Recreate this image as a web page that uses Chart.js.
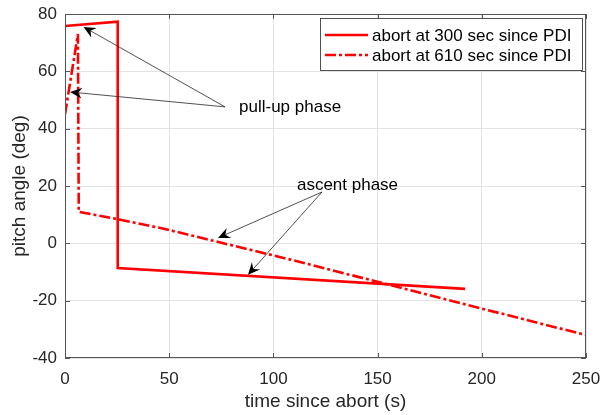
<!DOCTYPE html>
<html>
<head>
<meta charset="utf-8">
<script src="https://cdn.jsdelivr.net/npm/chart.js@4/dist/chart.umd.min.js"></script>
<style>
  html, body { margin: 0; padding: 0; background: #fff; }
  #wrap { width: 603px; height: 415px; }
</style>
</head>
<body>
<div id="wrap"><canvas id="graph" width="603" height="415"></canvas></div>
<script>
// abort at 300 sec since PDI (solid)
const abort300Time = [0, 25.3, 25.3, 192];
const abort300Pitch = [75.8, 77.3, -8.6, -15.9];

// abort at 610 sec since PDI (dash-dot)
const abort610Time = [0, 6.2, 6.6, 25.4, 48, 112.8, 199.1, 250];
const abort610Pitch = [45, 73, 11.0, 8.4, 5.0, -6.5, -22.6, -32.0];

const seriesLabels = ["abort at 300 sec since PDI", "abort at 610 sec since PDI"];

const xTicks = [0, 50, 100, 150, 200, 250];
const yTicks = [-40, -20, 0, 20, 40, 60, 80];

// annotation text and arrows (data coords)
const notes = [
  { text: "pull-up phase", x: 83.5, y: 47.6 },
  { text: "ascent phase", x: 111.3, y: 20.3 },
];
const arrows = [
  { from: [76.8, 47.6], to: [8.9, 75.5] },
  { from: [76.8, 47.6], to: [2.4, 52.8] },
  { from: [123.3, 17.9], to: [73.4, 1.9] },
  { from: [123.3, 17.9], to: [87.8, -11.0] },
];

const FONT = "'Liberation Sans', Arial, sans-serif";
const AXIS = "#555";

function toPoints(xs, ys) {
  return xs.map((x, i) => ({ x: x, y: ys[i] }));
}

function drawArrow(ctx, x0, y0, x1, y1) {
  const ang = Math.atan2(y1 - y0, x1 - x0);
  const len = 12, half = 5.5, back = 8;
  ctx.save();
  ctx.strokeStyle = "#262626";
  ctx.fillStyle = "#000";
  ctx.lineWidth = 0.8;
  ctx.beginPath();
  ctx.moveTo(x0, y0);
  ctx.lineTo(x1 - Math.cos(ang) * back, y1 - Math.sin(ang) * back);
  ctx.stroke();
  ctx.translate(x1, y1);
  ctx.rotate(ang);
  ctx.beginPath();
  ctx.moveTo(0, 0);
  ctx.lineTo(-len, -half);
  ctx.lineTo(-back, 0);
  ctx.lineTo(-len, half);
  ctx.closePath();
  ctx.fill();
  ctx.restore();
}

const extras = {
  id: "extras",
  afterDraw(chart) {
    const ctx = chart.ctx;
    const a = chart.chartArea;
    const xs = chart.scales.x, ys = chart.scales.y;

    // box + inward ticks
    ctx.save();
    ctx.strokeStyle = AXIS;
    ctx.lineWidth = 1;
    ctx.strokeRect(a.left + 0.5, a.top + 0.5, a.right - a.left - 1, a.bottom - a.top - 1);
    ctx.beginPath();
    xTicks.forEach(v => {
      const px = Math.round(xs.getPixelForValue(v)) + 0.5;
      ctx.moveTo(px, a.bottom); ctx.lineTo(px, a.bottom - 5);
      ctx.moveTo(px, a.top); ctx.lineTo(px, a.top + 5);
    });
    yTicks.forEach(v => {
      const py = Math.round(ys.getPixelForValue(v)) + 0.5;
      ctx.moveTo(a.left, py); ctx.lineTo(a.left + 5, py);
      ctx.moveTo(a.right, py); ctx.lineTo(a.right - 5, py);
    });
    ctx.stroke();
    ctx.restore();

    // arrows
    arrows.forEach(ar => {
      drawArrow(ctx,
        xs.getPixelForValue(ar.from[0]), ys.getPixelForValue(ar.from[1]),
        xs.getPixelForValue(ar.to[0]), ys.getPixelForValue(ar.to[1]));
    });

    // notes
    ctx.save();
    ctx.fillStyle = "#000";
    ctx.font = "17px " + FONT;
    ctx.textBaseline = "middle";
    ctx.textAlign = "left";
    notes.forEach(n => {
      ctx.fillText(n.text, xs.getPixelForValue(n.x), ys.getPixelForValue(n.y));
    });
    ctx.restore();

    // legend box
    ctx.save();
    const bx = 320, by = 18, bw = 262, bh = 52;
    ctx.fillStyle = "#fff";
    ctx.fillRect(bx, by, bw, bh);
    ctx.strokeStyle = "#262626";
    ctx.lineWidth = 0.8;
    ctx.strokeRect(bx + 0.5, by + 0.5, bw, bh);
    chart.data.datasets.forEach((ds, i) => {
      const yy = 35 + i * 20;
      ctx.strokeStyle = ds.borderColor;
      ctx.lineWidth = ds.borderWidth;
      ctx.setLineDash(ds.borderDash || []);
      ctx.beginPath();
      ctx.moveTo(325, yy);
      ctx.lineTo(368, yy);
      ctx.stroke();
      ctx.setLineDash([]);
      ctx.fillStyle = "#000";
      ctx.font = "17px " + FONT;
      ctx.textBaseline = "middle";
      ctx.fillText(ds.label, 372, yy + 1);
    });
    ctx.restore();
  },
};

const graph = document.getElementById("graph").getContext("2d");

let myChart = new Chart(graph, {
  type: "line",
  data: {
    datasets: [
      {
        label: seriesLabels[0],
        data: toPoints(abort300Time, abort300Pitch),
        borderColor: "#ff0000",
        borderWidth: 2.6,
        pointRadius: 0,
        tension: 0,
        fill: false,
      },
      {
        label: seriesLabels[1],
        data: toPoints(abort610Time, abort610Pitch),
        borderColor: "#ff0000",
        borderWidth: 2.6,
        borderDash: [11, 3, 3, 3],
        pointRadius: 0,
        tension: 0,
        fill: false,
      },
    ],
  },
  options: {
    responsive: false,
    animation: false,
    events: [],
    layout: {
      padding: { top: 14, right: 17, left: 0, bottom: 0 },
    },
    plugins: {
      legend: { display: false },
      tooltip: { enabled: false },
    },
    scales: {
      x: {
        type: "linear",
        min: 0,
        max: 250,
        afterBuildTicks: (s) => { s.ticks = xTicks.map(v => ({ value: v })); },
        afterFit: (s) => { s.height = 57; s.paddingLeft = 0; s.paddingRight = 0; },
        grid: { color: "#e3e3e3", drawTicks: false },
        border: { display: false },
        ticks: {
          color: "#262626",
          padding: 11,
          maxRotation: 0,
          font: { size: 17, family: FONT },
        },
        title: {
          display: true,
          text: "time since abort (s)",
          color: "#262626",
          padding: { top: 0, bottom: 2 },
          font: { size: 19, family: FONT },
        },
      },
      y: {
        type: "linear",
        min: -40,
        max: 80,
        afterBuildTicks: (s) => { s.ticks = yTicks.map(v => ({ value: v })); },
        afterFit: (s) => { s.width = 65; s.paddingTop = 0; s.paddingBottom = 0; },
        grid: { color: "#e3e3e3", drawTicks: false },
        border: { display: false },
        ticks: {
          color: "#262626",
          padding: 8,
          font: { size: 17, family: FONT },
        },
        title: {
          display: true,
          text: "pitch angle (deg)",
          color: "#262626",
          padding: { top: 8, bottom: 0 },
          font: { size: 19, family: FONT },
        },
      },
    },
  },
  plugins: [extras],
});
</script>
</body>
</html>
